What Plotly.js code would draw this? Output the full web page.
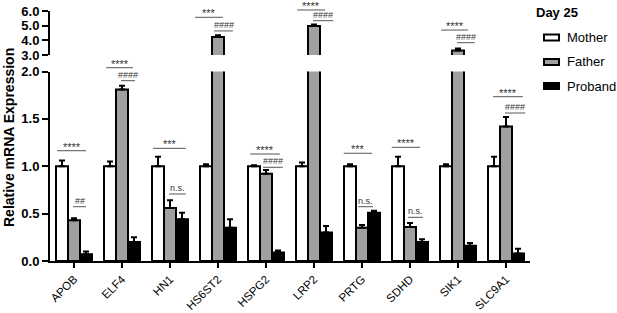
<!DOCTYPE html>
<html>
<head>
<meta charset="utf-8">
<script src="https://cdn.plot.ly/plotly-3.0.1.min.js"></script>
<style>html,body{margin:0;padding:0;background:#fff;}#chart{width:617px;height:313px;}</style>
</head>
<body>
<div id="chart"></div>
<script>
// ---- data ----
const genes = ['APOB','ELF4','HN1','HS6ST2','HSPG2','LRP2','PRTG','SDHD','SIK1','SLC9A1'];
const seriesNames = ['Mother','Father','Proband'];
const mother     = [1.00, 1.00, 1.00, 1.00, 1.00, 1.00, 1.00, 1.00, 1.00, 1.00];
const motherErr  = [0.06, 0.05, 0.10, 0.02, 0.01, 0.04, 0.02, 0.10, 0.02, 0.10];
const father     = [0.43, 1.81, 0.56, 4.23, 0.92, 4.98, 0.35, 0.36, 3.30, 1.42];
const fatherErr  = [0.02, 0.04, 0.08, 0.12, 0.04, 0.10, 0.03, 0.04, 0.15, 0.10];
const proband    = [0.07, 0.20, 0.44, 0.35, 0.09, 0.30, 0.51, 0.20, 0.16, 0.08];
const probandErr = [0.03, 0.05, 0.07, 0.09, 0.02, 0.07, 0.02, 0.03, 0.03, 0.05];
const legendTitle = 'Day 25';
const yTitle = 'Relative mRNA Expression';
// significance labels per gene: [Mother vs Proband, Father vs Proband]
const sigLabels = [
  ['****','##'], ['****','####'], ['***','n.s.'], ['***','####'], ['****','####'],
  ['****','####'], ['***','n.s.'], ['****','n.s.'], ['****','####'], ['****','####']
];

// ---- layout geometry ----
const LOW_DOM = [0, 0.758], LOW_RANGE = [0, 2];
const UP_DOM = [0.824, 1], UP_RANGE = [3, 6];
const FONT = 'Liberation Sans, Arial, sans-serif';
const colors = ['#ffffff', '#a0a0a0', '#000000'];
const seriesVals = [mother, father, proband];
const seriesErr = [motherErr, fatherErr, probandErr];

// annotation bar placement: [axis, level, x0off, x1off] for each of the two lines
const sigPos = [
  [['l',1.164,-0.35,0.25], ['l',0.573,-0.02,0.25]],
  [['l',2.040,-0.33,0.23], ['l',1.903,-0.02,0.27]],
  [['l',1.189,-0.35,0.33], ['l',0.707,-0.02,0.33]],
  [['u',5.57,-0.48,0.10],  ['u',4.64,-0.08,0.31]],
  [['l',1.129,-0.33,0.29], ['l',0.989,-0.06,0.35]],
  [['u',6.07,-0.35,0.23],  ['u',5.34,-0.02,0.40]],
  [['l',1.137,-0.38,0.21], ['l',0.573,-0.08,0.23]],
  [['l',1.200,-0.38,0.21], ['l',0.461,-0.04,0.27]],
  [['u',4.70,-0.35,0.21],  ['u',3.84,-0.02,0.35]],
  [['l',1.734,-0.27,0.35], ['l',1.562,-0.02,0.40]]
];

const xp = (i, off) => (i + off + 0.5) / genes.length;
const yLow = v => LOW_DOM[0] + (v - LOW_RANGE[0]) / (LOW_RANGE[1] - LOW_RANGE[0]) * (LOW_DOM[1] - LOW_DOM[0]);
const yUp = v => UP_DOM[0] + (v - UP_RANGE[0]) / (UP_RANGE[1] - UP_RANGE[0]) * (UP_DOM[1] - UP_DOM[0]);

const traces = [];
['y','y2'].forEach(ax => {
  seriesNames.forEach((name, k) => {
    traces.push({
      type: 'bar', name: name, x: genes, y: seriesVals[k], yaxis: ax, xaxis: 'x',
      showlegend: false,
      marker: {color: colors[k], line: {color: '#000', width: 2}},
      error_y: {type: 'data', array: seriesErr[k], arrayminus: seriesErr[k].map(() => 0),
                symmetric: false, color: '#000', thickness: 2, width: 3},
      hoverinfo: 'skip'
    });
  });
});

const shapes = [];
const annotations = [];
genes.forEach((g, i) => {
  sigPos[i].forEach((p, j) => {
    const yy = p[0] === 'l' ? yLow(p[1]) : yUp(p[1]);
    shapes.push({type: 'line', xref: 'paper', yref: 'paper', x0: xp(i, p[2]), x1: xp(i, p[3]),
      y0: yy, y1: yy, line: {color: '#555', width: 1}});
    const lab = sigLabels[i][j];
    const isStar = lab.indexOf('*') >= 0;
    annotations.push({xref: 'paper', yref: 'paper', x: xp(i, (p[2] + p[3]) / 2), y: yy,
      text: lab, showarrow: false, xanchor: 'center', yanchor: 'bottom',
      yshift: isStar ? -4 : -1,
      font: {family: FONT, size: isStar ? 11 : 9, color: '#333'}});
  });
});

// custom legend
const pxX = px => (px - 50) / 480;
const pxY = py => (261 - py) / 250;
annotations.push({xref: 'paper', yref: 'paper', x: pxX(534), y: pxY(12), xanchor: 'left', yanchor: 'middle',
  text: legendTitle, showarrow: false, font: {family: FONT, size: 13, weight: 'bold', color: '#000'}});
const legY = [37.5, 62, 86];
seriesNames.forEach((name, k) => {
  shapes.push({type: 'rect', xref: 'paper', yref: 'paper', x0: pxX(544), x1: pxX(559),
    y0: pxY(legY[k] - 3), y1: pxY(legY[k] + 3), fillcolor: colors[k], line: {color: '#000', width: 2}});
  annotations.push({xref: 'paper', yref: 'paper', x: pxX(565), y: pxY(legY[k]), xanchor: 'left', yanchor: 'middle',
    text: name, showarrow: false, font: {family: FONT, size: 13, color: '#000'}});
});
// y title
annotations.push({xref: 'paper', yref: 'paper', x: pxX(9), y: pxY(138), xanchor: 'center', yanchor: 'middle',
  text: yTitle, textangle: -90, showarrow: false, font: {family: FONT, size: 14, weight: 'bold', color: '#000'}});

const yCommon = {
  showline: true, linecolor: '#000', linewidth: 2, ticks: 'outside', ticklen: 6, tickwidth: 2,
  tickcolor: '#000', showgrid: false, zeroline: false, tickformat: '.1f', automargin: false,
  tickfont: {family: FONT, size: 13, weight: 'bold', color: '#000'}, fixedrange: true
};

const layout = {
  width: 617, height: 313,
  margin: {l: 50, r: 87, t: 11, b: 52},
  paper_bgcolor: '#fff', plot_bgcolor: 'rgba(0,0,0,0)',
  barmode: 'group', bargap: 0.25, bargroupgap: 0,
  showlegend: false,
  xaxis: {
    type: 'category', range: [-0.5, genes.length - 0.5], anchor: 'y',
    showline: true, linecolor: '#000', linewidth: 2, ticks: 'outside', ticklen: 5, tickwidth: 2,
    tickcolor: '#000', tickangle: -45, showgrid: false, zeroline: false, automargin: false,
    tickfont: {family: FONT, size: 11.5, color: '#000'}, fixedrange: true
  },
  yaxis: Object.assign({}, yCommon, {domain: LOW_DOM, range: LOW_RANGE, dtick: 0.5, tick0: 0, anchor: 'x'}),
  yaxis2: Object.assign({}, yCommon, {domain: UP_DOM, range: UP_RANGE, dtick: 1, tick0: 3, anchor: 'x'}),
  shapes: shapes,
  annotations: annotations
};

Plotly.newPlot('chart', traces, layout, {displayModeBar: false, staticPlot: true});
</script>
</body>
</html>
